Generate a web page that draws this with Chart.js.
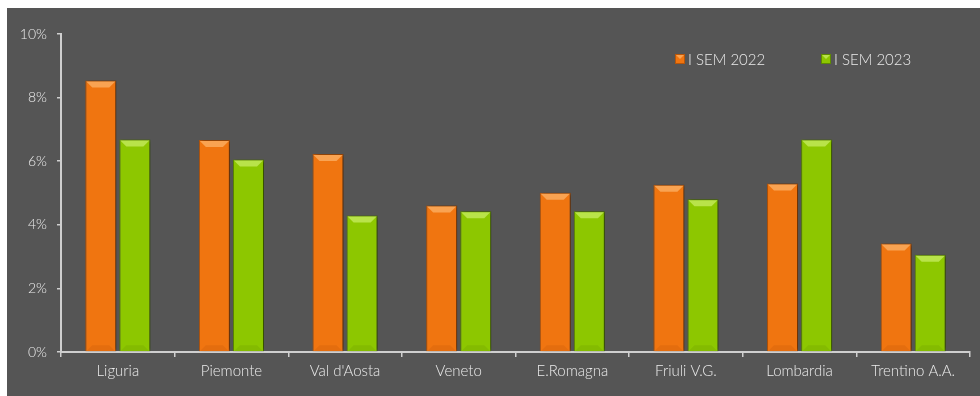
<!DOCTYPE html>
<html>
<head>
<meta charset="utf-8">
<script src="https://cdn.jsdelivr.net/npm/chart.js@4/dist/chart.umd.min.js"></script>
<style>
  html, body { margin: 0; padding: 0; background: #fff; width: 980px; height: 396px; overflow: hidden; }
  #title { position: absolute; left: 120px; top: -25px; font: bold 22px "DejaVu Sans", sans-serif; color: #111; white-space: nowrap; }
  #wrap { position: absolute; left: 7px; top: 8px; width: 973px; height: 388px; background: #555555; }
</style>
</head>
<body>
<div id="title">Incidenza prezzi e pagamenti per regione</div>
<div id="wrap"><canvas id="bar-chartcanvas"></canvas></div>
<script>
// Bar chart - confronto semestri per regione

var regions = ["Liguria", "Piemonte", "Val d'Aosta", "Veneto", "E.Romagna", "Friuli V.G.", "Lombardia", "Trentino A.A."];
var sem2022 = [8.54, 6.67, 6.23, 4.61, 5.01, 5.26, 5.30, 3.41];
var sem2023 = [6.68, 6.05, 4.29, 4.43, 4.43, 4.80, 6.68, 3.06];
var seriesNames = ["I SEM 2022", "I SEM 2023"];
var yTicks = [0, 2, 4, 6, 8, 10];

var labelFont = { family: "Lato, 'Open Sans', sans-serif", size: 15, weight: 300 };
var textColor = "#ebebeb";

// drop shadow behind the bars
var shadowPlugin = {
	id: "barShadow",
	beforeDatasetsDraw: function(chart) {
		var c = chart.ctx;
		c.save();
		c.shadowColor = "rgba(0,0,0,0.55)";
		c.shadowBlur = 4;
		c.shadowOffsetX = 2;
		c.shadowOffsetY = 0;
	},
	afterDatasetsDraw: function(chart) {
		chart.ctx.restore();
	}
};

// light bevel on top of every bar, drawn from the bar elements
var bevelPlugin = {
	id: "bevel",
	afterDatasetsDraw: function(chart) {
		var c = chart.ctx;
		var tops = ["#f9a352", "#b9e34a"];
		var bottoms = ["rgba(150,60,0,0.12)", "rgba(70,110,0,0.12)"];
		chart.data.datasets.forEach(function(ds, di) {
			chart.getDatasetMeta(di).data.forEach(function(bar) {
				var l = bar.x - bar.width / 2 + 1, r = bar.x + bar.width / 2 - 1;
				var t = bar.y + 1, b = bar.base;
				var d = 6;
				c.save();
				c.fillStyle = tops[di];
				c.beginPath();
				c.moveTo(l, t);
				c.lineTo(r, t);
				c.lineTo(r - d, t + d);
				c.lineTo(l + d, t + d);
				c.closePath();
				c.fill();
				c.fillStyle = bottoms[di];
				c.beginPath();
				c.moveTo(l, b);
				c.lineTo(r, b);
				c.lineTo(r - d, b - d);
				c.lineTo(l + d, b - d);
				c.closePath();
				c.fill();
				c.restore();
			});
		});
	}
};

// legend drawn inside the plot area, top right
var legendPlugin = {
	id: "innerLegend",
	afterDraw: function(chart) {
		var c = chart.ctx;
		var area = chart.chartArea;
		var xs = [area.left + 614, area.left + 760];
		var y = area.top + 25;
		c.save();
		c.font = labelFont.weight + " " + labelFont.size + "px " + labelFont.family;
		c.textBaseline = "middle";
		chart.data.datasets.forEach(function(ds, i) {
			c.fillStyle = ds.borderColor;
			c.fillRect(xs[i], y - 5, 10, 10);
			c.fillStyle = ds.backgroundColor;
			c.fillRect(xs[i] + 1, y - 4, 8, 8);
			c.fillStyle = ds.bevelColor;
			c.beginPath();
			c.moveTo(xs[i] + 1, y - 4);
			c.lineTo(xs[i] + 9, y - 4);
			c.lineTo(xs[i] + 5, y);
			c.closePath();
			c.fill();
			c.fillStyle = textColor;
			c.fillText(ds.label, xs[i] + 13, y + 1);
		});
		c.restore();
	}
};

var ctx = document.getElementById("bar-chartcanvas");

var data = {
	labels: regions,
	datasets: [
		{
			label: seriesNames[0],
			data: sem2022,
			backgroundColor: "#f07510",
			borderColor: "#b8560a",
			bevelColor: "#f9a352",
			borderWidth: 1,
			categoryPercentage: 0.6,
			barPercentage: 0.91
		},
		{
			label: seriesNames[1],
			data: sem2023,
			backgroundColor: "#8dc700",
			borderColor: "#5f8c00",
			bevelColor: "#b9e34a",
			borderWidth: 1,
			categoryPercentage: 0.6,
			barPercentage: 0.91
		}
	]
};

var options = {
	responsive: false,
	animation: false,
	layout: {
		padding: { left: 0, right: 10, top: 26, bottom: 0 }
	},
	plugins: {
		legend: { display: false },
		tooltip: { enabled: false }
	},
	scales: {
		x: {
			grid: {
				offset: true,
				drawOnChartArea: false,
				color: "#cfcfcf",
				tickLength: 5,
				lineWidth: 1.5
			},
			border: { color: "#cfcfcf", width: 2 },
			ticks: {
				color: textColor,
				font: labelFont,
				padding: 5,
				maxRotation: 0,
				autoSkip: false
			},
			afterFit: function(scale) { scale.height = 44; }
		},
		y: {
			min: 0,
			max: 10,
			afterBuildTicks: function(scale) {
				scale.ticks = yTicks.map(function(v) { return { value: v }; });
			},
			grid: {
				drawOnChartArea: false,
				color: "#cfcfcf",
				tickLength: 4,
				lineWidth: 1.5
			},
			border: { color: "#cfcfcf", width: 2 },
			ticks: {
				color: textColor,
				font: { family: labelFont.family, size: 14, weight: 300 },
				padding: 10,
				callback: function(v) { return v + "%"; }
			},
			afterFit: function(scale) { scale.width = 54; }
		}
	}
};

ctx.width = 973;
ctx.height = 388;

var chart = new Chart(ctx, {
	type: "bar",
	data: data,
	options: options,
	plugins: [shadowPlugin, bevelPlugin, legendPlugin]
});
</script>
</body>
</html>
